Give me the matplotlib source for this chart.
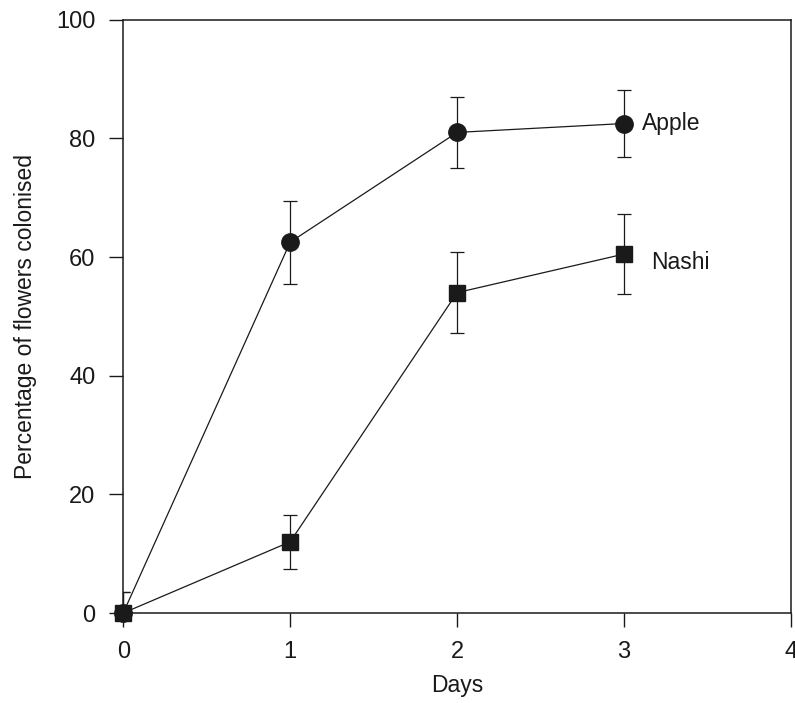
import matplotlib
matplotlib.use('Agg')
import matplotlib.pyplot as plt

# -------------------- Data --------------------
days = [0, 1, 2, 3]
apple = [0, 62.5, 81, 82.5]
apple_err = [3.5, 7, 6, 5.7]
nashi = [0, 12, 54, 60.5]
nashi_err = [3.5, 4.6, 6.8, 6.7]

plt.rcParams['font.family'] = ['Liberation Sans', 'DejaVu Sans']
ink = '#1a1a1a'

# -------------------- Plotting --------------------
fig = plt.figure(figsize=(7.95, 7.03), dpi=100)
ax = fig.add_axes([0.155, 0.128, 0.84, 0.844])

# lines + error bars (clipped at the axes, so the day-0 bars only show the top half)
ax.errorbar(days, apple, yerr=apple_err, fmt='-', color=ink,
            lw=0.9, elinewidth=0.9, capsize=5, capthick=0.9, zorder=3)
ax.errorbar(days, nashi, yerr=nashi_err, fmt='-', color=ink,
            lw=0.9, elinewidth=0.9, capsize=5, capthick=0.9, zorder=3)

# markers drawn on top, not clipped
ax.plot(days, apple, 'o', color=ink, markersize=12.5, clip_on=False, zorder=4)
ax.plot(days, nashi, 's', color=ink, markersize=11, clip_on=False, zorder=5)

ax.text(3.11, apple[-1], 'Apple', fontsize=16.5, va='center', ha='left', color=ink)
ax.text(3.16, 59, 'Nashi', fontsize=16.5, va='center', ha='left', color=ink)

ax.set_xlim(0, 4)
ax.set_ylim(0, 100)
ax.set_xticks([0, 1, 2, 3, 4])
ax.set_yticks([0, 20, 40, 60, 80, 100])
ax.tick_params(direction='out', length=10, width=1, labelsize=17, colors=ink)
ax.tick_params(axis='x', pad=10)
ax.tick_params(axis='y', pad=10)

for s in ax.spines.values():
    s.set_linewidth(1.1)
    s.set_color(ink)

ax.set_xlabel('Days', fontsize=16.5, labelpad=8, color=ink)
ax.set_ylabel('Percentage of flowers colonised', fontsize=16.5, labelpad=14, color=ink)

fig.savefig('out.png', dpi=100)
